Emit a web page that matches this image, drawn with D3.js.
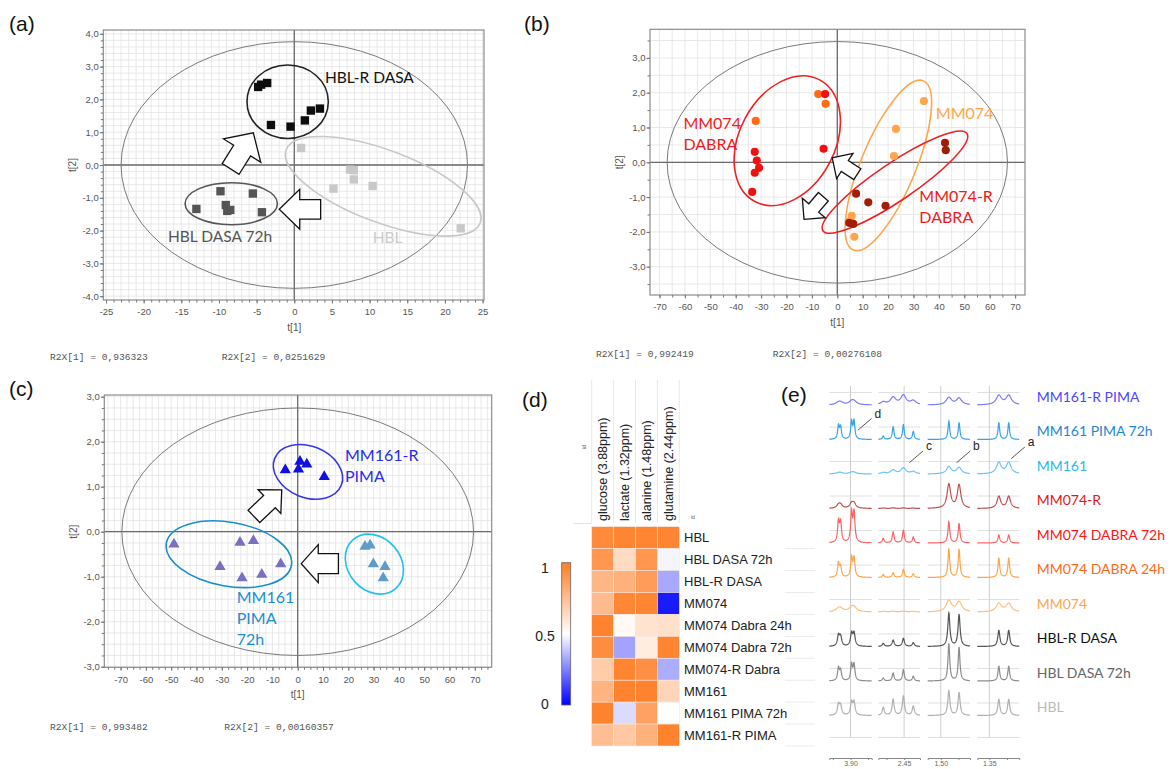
<!DOCTYPE html>
<html><head><meta charset="utf-8">
<script src="https://cdn.jsdelivr.net/npm/d3@7"></script>
<style>body{margin:0;background:#fff}svg{display:block}</style>
</head><body>
<script>
// ================= DATA =================
// ---- (a) PCA scores t[1], t[2]
const aXTicks = [-25,-20,-15,-10,-5,0,5,10,15,20,25];
const aYTicks = [-4,-3,-2,-1,0,1,2,3,4];
const aHBLR_DASA   = [[-4.8,2.38],[-4.4,2.45],[-3.6,2.5],[-3.1,1.22],[-0.5,1.17],[1.4,1.36],[2.2,1.66],[3.4,1.72]];
const aHBL_DASA72  = [[-13,-1.34],[-9.8,-0.8],[-9.1,-1.22],[-8.9,-1.4],[-8.5,-1.37],[-5.5,-0.87],[-4.3,-1.44]];
const aHBL         = [[0.9,0.52],[5.2,-0.72],[7.4,-0.14],[7.9,-0.16],[7.9,-0.44],[10.4,-0.64],[22.1,-1.93]];
const aR2X = ["R2X[1] = 0,936323", "R2X[2] = 0,0251629"];

// ---- (b)
const bXTicks = [-70,-60,-50,-40,-30,-20,-10,0,10,20,30,40,50,60,70];
const bYTicks = [-3,-2,-1,0,1,2,3];
const bMM074      = [[34.1,1.76],[23.1,0.96],[22.3,0.18],[5.7,-1.54],[4.6,-1.7],[6.7,-2.14]];
const bMM074_D24  = [[-7.5,1.96],[-4.6,1.68],[-32.1,1.19]];
const bMM074_D72  = [[-4.8,1.96],[-5.4,0.39],[-32.5,0.3],[-31.7,0.05],[-30.8,-0.16],[-32.5,-0.3],[-33.5,-0.85]];
const bMM074R     = [[42.4,0.56],[42.7,0.35],[7.4,-0.9],[12.2,-1.15],[19,-1.25],[4.7,-1.74],[6.3,-1.77]];
const bR2X = ["R2X[1] = 0,992419", "R2X[2] = 0,00276108"];

// ---- (c)
const cXTicks = [-70,-60,-50,-40,-30,-20,-10,0,10,20,30,40,50,60,70];
const cYTicks = [-3,-2,-1,0,1,2,3];
const cMM161R     = [[-4.9,1.37],[0.9,1.56],[0.3,1.39],[3.6,1.5],[10.5,1.22]];
const cMM161_P72  = [[-48.9,-0.28],[-22.8,-0.24],[-17.5,-0.2],[-30.7,-0.78],[-22,-1.03],[-14.2,-0.95],[-6.7,-0.72]];
const cMM161      = [[26.6,-0.33],[28.6,-0.3],[29.9,-0.72],[34.5,-0.78],[33.8,-1.03]];
const cR2X = ["R2X[1] = 0,993482", "R2X[2] = 0,00160357"];

// ---- (d) heatmap
const hmCols = ["glucose (3.88ppm)","lactate (1.32ppm)","alanine (1.48ppm)","glutamine (2.44ppm)"];
const hmRows = ["HBL","HBL DASA 72h","HBL-R DASA","MM074","MM074 Dabra 24h","MM074 Dabra 72h","MM074-R Dabra","MM161","MM161 PIMA 72h","MM161-R PIMA"];
const hmValues = [
  [0.95,0.97,0.97,0.97],
  [0.90,0.64,0.90,0.48],
  [0.78,0.80,0.88,0.33],
  [0.76,0.96,0.97,0.05],
  [0.98,0.52,0.61,0.62],
  [0.94,0.32,0.57,0.97],
  [0.70,0.97,0.93,0.34],
  [0.79,0.98,0.98,0.66],
  [0.98,0.43,0.86,0.50],
  [0.75,0.71,0.80,0.98]
];
const cbTicks = [0, 0.5, 1];

// ---- (e) NMR spectra (peak tables)
const specRows = ["MM161-R PIMA","MM161 PIMA 72h","MM161","MM074-R","MM074 DABRA 72h","MM074 DABRA 24h","MM074","HBL-R DASA","HBL DASA 72h","HBL"];
const specRef = [3.90, 2.45, 1.50, 1.35];
const specRefLabels = ["3.90","2.45","1.50","1.35"];
const specDom = [[3.96,3.84],[2.523,2.405],[1.537,1.417],[1.384,1.265]];
const peakPpm = [[3.934,3.928,3.897,3.890],[2.509,2.481,2.452,2.424],[1.477,1.448],[1.323,1.295]];
const peakWidth = [0.009,0.0028,0.008,0.006,0.003,0.003,0.009,0.0035,0.003,0.0035];
const peakHeights = [
  [[6,6,9,9],[8,22,28,12],[22,20],[28,28]],
  [[40,36,52,54],[10,38,44,24],[55,50],[50,50]],
  [[3,3,4,4],[4,12,18,7],[22,19],[34,34]],
  [[10,10,14,14],[1.5,2,2,1.5],[72,70],[36,36]],
  [[62,58,88,88],[14,33,38,18],[64,58],[24,24]],
  [[42,30,58,56],[9,14,24,11],[84,84],[58,58]],
  [[8,8,11,11],[2,2,2,2],[34,30],[25,25]],
  [[32,28,38,38],[9,19,24,11],[100,95],[48,48]],
  [[38,30,48,48],[9,24,34,14],[112,100],[44,44]],
  [[32,28,38,38],[24,48,58,28],[74,68],[48,48]]
];
const specAnnot = [
  {t:"d", col:0, row:1, ppm:3.879, h:28},
  {t:"c", col:1, row:2, ppm:2.435, h:34},
  {t:"b", col:2, row:2, ppm:1.455, h:34},
  {t:"a", col:3, row:2, ppm:1.288, h:46}
];

// ================= DRAW =================
const W = 1172, H = 769;
const svg = d3.select("body").append("svg").attr("width", W).attr("height", H);
svg.append("rect").attr("width", W).attr("height", H).attr("fill", "#fff");
const SANS = "'Liberation Sans', Arial, sans-serif";
const LABF = "Lato, 'Liberation Sans', sans-serif";

const fmtY = d => d3.format(".1f")(d).replace(".", ",").replace("\u2212", "-");
const fmtX = d => d3.format("d")(d).replace("\u2212", "-");

function blockArrow(p0, p1, shaft, head, headLen) {
  const dx = p1[0]-p0[0], dy = p1[1]-p0[1], L = Math.hypot(dx, dy);
  const ux = dx/L, uy = dy/L, nx = -uy, ny = ux;
  const b = [p1[0]-ux*headLen, p1[1]-uy*headLen];
  const pts = [
    [p0[0]+nx*shaft/2, p0[1]+ny*shaft/2],
    [b[0]+nx*shaft/2, b[1]+ny*shaft/2],
    [b[0]+nx*head/2, b[1]+ny*head/2],
    p1,
    [b[0]-nx*head/2, b[1]-ny*head/2],
    [b[0]-nx*shaft/2, b[1]-ny*shaft/2],
    [p0[0]-nx*shaft/2, p0[1]-ny*shaft/2]];
  return "M" + pts.map(p => p.map(v => v.toFixed(2)).join(",")).join("L") + "Z";
}

function pca(c) {
  const g = svg.append("g");
  const x = d3.scaleLinear().domain(c.xDom).range([c.L, c.R]);
  const y = d3.scaleLinear().domain(c.yDom).range([c.B, c.T]);
  const xg = d3.range(Math.ceil(c.xDom[0]/c.xStep)*c.xStep, c.xDom[1], c.xStep);
  const yg = d3.range(Math.ceil(c.yDom[0]/c.yStep)*c.yStep, c.yDom[1], c.yStep);
  g.append("g").selectAll("line").data(xg).join("line")
    .attr("x1", d => x(d)).attr("x2", d => x(d)).attr("y1", c.T).attr("y2", c.B)
    .attr("stroke", "#e3e3e3").attr("stroke-width", 0.8);
  g.append("g").selectAll("line").data(yg).join("line")
    .attr("y1", d => y(d)).attr("y2", d => y(d)).attr("x1", c.L).attr("x2", c.R)
    .attr("stroke", "#e3e3e3").attr("stroke-width", 0.8);
  g.append("line").attr("x1", x(0)).attr("x2", x(0)).attr("y1", c.T).attr("y2", c.B)
    .attr("stroke", "#6a6a6a").attr("stroke-width", 1.3);
  g.append("line").attr("y1", y(0)).attr("y2", y(0)).attr("x1", c.L).attr("x2", c.R)
    .attr("stroke", "#6a6a6a").attr("stroke-width", 1.3);
  g.append("rect").attr("x", c.L).attr("y", c.T).attr("width", c.R-c.L).attr("height", c.B-c.T)
    .attr("fill", "none").attr("stroke", "#8c8c8c").attr("stroke-width", 1.2);

  const styleAxis = s => {
    s.select(".domain").remove();
    s.selectAll("line").attr("stroke", "#777");
    s.selectAll("text").attr("fill", "#555").attr("font-family", SANS).attr("font-size", 9.5);
  };
  g.append("g").attr("transform", `translate(0,${c.B})`)
    .call(d3.axisBottom(x).tickValues(xg).tickFormat("").tickSize(2.5)).call(styleAxis);
  g.append("g").attr("transform", `translate(0,${c.B})`)
    .call(d3.axisBottom(x).tickValues(c.xTicks).tickFormat(fmtX).tickSize(3.5).tickPadding(5)).call(styleAxis);
  g.append("g").attr("transform", `translate(${c.L},0)`)
    .call(d3.axisLeft(y).tickValues(yg).tickFormat("").tickSize(2.5)).call(styleAxis);
  g.append("g").attr("transform", `translate(${c.L},0)`)
    .call(d3.axisLeft(y).tickValues(c.yTicks).tickFormat(fmtY).tickSize(3.5).tickPadding(1)).call(styleAxis);

  g.append("text").attr("x", x(0)).attr("y", c.B + 31)
    .attr("text-anchor", "middle").attr("font-family", SANS).attr("font-size", 10).attr("fill", "#555").text("t[1]");
  g.append("text").attr("transform", `translate(${c.L-27},${y(0)}) rotate(-90)`)
    .attr("text-anchor", "middle").attr("font-family", SANS).attr("font-size", 10).attr("fill", "#555").text("t[2]");

  g.append("g").selectAll("ellipse").data(c.ellipses).join("ellipse")
    .attr("transform", d => `translate(${x(d.cx)},${y(d.cy)}) rotate(${d.rot})`)
    .attr("rx", d => Math.abs(x(d.rx)-x(0))).attr("ry", d => Math.abs(y(d.ry)-y(0)))
    .attr("fill", "none").attr("stroke", d => d.color).attr("stroke-width", d => d.w);

  g.append("g").selectAll("path").data(c.arrows).join("path")
    .attr("d", d => blockArrow([x(d.from[0]), y(d.from[1])], [x(d.to[0]), y(d.to[1])], d.shaft, d.head, d.headLen))
    .attr("fill", "#fff").attr("stroke", "#111").attr("stroke-width", 1.3).attr("stroke-linejoin", "miter");

  c.groups.forEach(gr => {
    const sym = d3.symbol().type(gr.shape).size(gr.size);
    g.append("g").selectAll("path").data(gr.pts).join("path")
      .attr("transform", d => `translate(${x(d[0])},${y(d[1])})`)
      .attr("d", sym).attr("fill", gr.color);
  });

  c.labels.forEach(lb => {
    const t = g.append("text").attr("font-family", LABF).attr("font-size", lb.size).attr("fill", lb.color);
    lb.lines.forEach((ln, i) => {
      t.append("tspan").attr("x", x(lb.x)).attr("y", y(lb.y) + i*lb.lh).text(ln);
    });
  });

  g.append("text").attr("x", c.r2x[0]).attr("y", c.r2xY).attr("font-family", "'Liberation Mono', monospace")
    .attr("font-size", 9.6).attr("fill", "#555").text(c.r2xText[0]);
  g.append("text").attr("x", c.r2x[1]).attr("y", c.r2xY).attr("font-family", "'Liberation Mono', monospace")
    .attr("font-size", 9.6).attr("fill", "#555").text(c.r2xText[1]);
}

// ---- panel (a)
pca({
  L: 103.3, R: 484, T: 30, B: 300, xDom: [-25.36, 25.19], yDom: [-4.116, 4.116],
  xStep: 1, yStep: 0.2, xTicks: aXTicks, yTicks: aYTicks,
  ellipses: [
    {cx: 0, cy: 0, rx: 23, ry: 3.76, rot: 0, color: "#7a7a7a", w: 1},
    {cx: -0.88, cy: 1.93, rx: 5.4, ry: 1.12, rot: 0, color: "#222", w: 1.6},
    {cx: -8.37, cy: -1.18, rx: 6.13, ry: 0.64, rot: 0, color: "#555", w: 1.6},
    {cx: 11.8, cy: -0.65, rx: 13.77, ry: 1.1, rot: 20.7, color: "#c8c8c8", w: 1.6}
  ],
  arrows: [
    {from: [-8.45, -0.12], to: [-5.44, 0.98], shaft: 20, head: 44, headLen: 21},
    {from: [3.5, -1.35], to: [-2.0, -1.35], shaft: 19.5, head: 40, headLen: 20.5}
  ],
  groups: [
    {pts: aHBL, color: "#c8c8c8", shape: d3.symbolSquare, size: 70},
    {pts: aHBL_DASA72, color: "#555", shape: d3.symbolSquare, size: 70},
    {pts: aHBLR_DASA, color: "#0d0d0d", shape: d3.symbolSquare, size: 70}
  ],
  labels: [
    {lines: ["HBL-R DASA"], x: 4.08, y: 2.5, color: "#111", size: 15.5, lh: 0},
    {lines: ["HBL DASA 72h"], x: -16.77, y: -2.34, color: "#555", size: 15.5, lh: 0},
    {lines: ["HBL"], x: 10.41, y: -2.38, color: "#cccccc", size: 15.5, lh: 0}
  ],
  r2x: [50, 221.7], r2xY: 360, r2xText: aR2X
});

// ---- panel (b)
pca({
  L: 650, R: 1025, T: 29.3, B: 295, xDom: [-73.74, 73.9], yDom: [-3.813, 3.822],
  xStep: 5, yStep: 0.5, xTicks: bXTicks, yTicks: bYTicks,
  ellipses: [
    {cx: 0, cy: 0, rx: 67, ry: 3.47, rot: 0, color: "#7a7a7a", w: 1},
    {cx: -19.7, cy: 0.62, rx: 18.8, ry: 1.98, rot: 28, color: "#ee2222", w: 1.6},
    {cx: 20.1, cy: -0.09, rx: 10.8, ry: 2.63, rot: 22.5, color: "#ffa64d", w: 1.6},
    {cx: 22.7, cy: -0.57, rx: 34.2, ry: 0.54, rot: -34, color: "#ee2222", w: 1.6}
  ],
  arrows: [
    {from: [7.9, -0.34], to: [-2.0, 0.13], shaft: 13, head: 30, headLen: 15},
    {from: [-5.5, -0.99], to: [-13.1, -1.64], shaft: 13, head: 30, headLen: 15}
  ],
  groups: [
    {pts: bMM074, color: "#ffa64d", shape: d3.symbolCircle, size: 52},
    {pts: bMM074_D24, color: "#ff6a13", shape: d3.symbolCircle, size: 52},
    {pts: bMM074_D72, color: "#f01010", shape: d3.symbolCircle, size: 52},
    {pts: bMM074R, color: "#a01e05", shape: d3.symbolCircle, size: 52}
  ],
  labels: [
    {lines: ["MM074", "DABRA"], x: -60.6, y: 0.95, color: "#ee1c1c", size: 16, lh: 20.7},
    {lines: ["MM074"], x: 38.8, y: 1.24, color: "#ffa64d", size: 16, lh: 0},
    {lines: ["MM074-R", "DABRA"], x: 32.3, y: -1.13, color: "#ee1c1c", size: 16, lh: 21}
  ],
  r2x: [596, 772.7], r2xY: 356.5, r2xText: bR2X
});

// ---- panel (c)
pca({
  L: 104.3, R: 491.7, T: 395, B: 667.3, xDom: [-76.44, 76.68], yDom: [-3.013, 3.038],
  xStep: 2.5, yStep: 0.25, xTicks: cXTicks, yTicks: cYTicks,
  ellipses: [
    {cx: 0, cy: 0, rx: 69.5, ry: 2.75, rot: 0, color: "#7a7a7a", w: 1},
    {cx: 4.07, cy: 1.33, rx: 14.2, ry: 0.57, rot: 22, color: "#3535e8", w: 1.6},
    {cx: -27.2, cy: -0.5, rx: 25.1, ry: 0.71, rot: 10, color: "#1a8fd0", w: 1.6},
    {cx: 30.3, cy: -0.72, rx: 10.4, ry: 0.72, rot: -41, color: "#22c0f0", w: 1.6}
  ],
  arrows: [
    {from: [-17.3, 0.34], to: [-6.3, 0.93], shaft: 17, head: 33, headLen: 17},
    {from: [16.1, -0.71], to: [1.4, -0.71], shaft: 20, head: 38, headLen: 17}
  ],
  groups: [
    {pts: cMM161, color: "#5f9cc8", shape: d3.symbolTriangle, size: 55},
    {pts: cMM161_P72, color: "#7a70c0", shape: d3.symbolTriangle, size: 55},
    {pts: cMM161R, color: "#1111dd", shape: d3.symbolTriangle, size: 55}
  ],
  labels: [
    {lines: ["MM161-R", "PIMA"], x: 18.7, y: 1.57, color: "#2a2aee", size: 16, lh: 20.7},
    {lines: ["MM161", "PIMA", "72h"], x: -24.1, y: -1.59, color: "#1a8fd0", size: 16, lh: 20.8}
  ],
  r2x: [50, 224.3], r2xY: 730, r2xText: cR2X
});

// ---- panel (d) heatmap
(function () {
  const g = svg.append("g");
  const x = d3.scaleBand().domain(hmCols).range([591.7, 679.3]);
  const y = d3.scaleBand().domain(hmRows).range([526.7, 746]);
  const col = d3.scaleLinear().domain([0, 0.5, 1]).range(["#0000ff", "#ffffff", "#ff7d25"]);
  g.selectAll("line.hs").data(d3.range(hmCols.length + 1)).join("line")
    .attr("x1", i => 591.7 + i*x.bandwidth()).attr("x2", i => 591.7 + i*x.bandwidth())
    .attr("y1", 380).attr("y2", 523).attr("stroke", "#e2e2e2").attr("stroke-width", 0.8);
  g.append("line").attr("x1", 573).attr("x2", 591.7).attr("y1", 523.5).attr("y2", 523.5).attr("stroke", "#e2e2e2");
  g.selectAll("line.rs").data(hmRows).join("line")
    .attr("x1", 785).attr("x2", 815)
    .attr("y1", (d, i) => 526.7 + (i+1)*y.bandwidth()).attr("y2", (d, i) => 526.7 + (i+1)*y.bandwidth())
    .attr("stroke", "#e6e6e6").attr("stroke-width", 0.8);
  hmValues.forEach((row, ri) => {
    g.append("g").selectAll("rect").data(row).join("rect")
      .attr("x", (v, ci) => x(hmCols[ci])).attr("y", y(hmRows[ri]))
      .attr("width", x.bandwidth()).attr("height", y.bandwidth())
      .attr("fill", v => col(v)).attr("stroke", "#f4e6dc").attr("stroke-width", 0.6);
  });
  g.selectAll("text.cl").data(hmCols).join("text")
    .attr("transform", d => `translate(${x(d) + x.bandwidth()/2 + 4.5},521) rotate(-90)`)
    .attr("font-family", SANS).attr("font-size", 12.5).attr("fill", "#222").text(d => d);
  g.selectAll("text.rl").data(hmRows).join("text")
    .attr("x", 684).attr("y", d => y(d) + y.bandwidth()/2 + 4.5)
    .attr("font-family", SANS).attr("font-size", 13).attr("fill", "#222").text(d => d);
  g.append("text").attr("transform", "translate(586,449) rotate(-90)").attr("font-family", SANS)
    .attr("font-size", 5).attr("fill", "#555").text("id");
  g.append("text").attr("x", 691).attr("y", 519).attr("font-family", SANS)
    .attr("font-size", 5).attr("fill", "#555").text("id");
  const defs = svg.append("defs");
  const grad = defs.append("linearGradient").attr("id", "cb").attr("x1", 0).attr("y1", 1).attr("x2", 0).attr("y2", 0);
  d3.range(0, 1.0001, 0.1).forEach(v => grad.append("stop").attr("offset", v).attr("stop-color", col(v)));
  const cy = d3.scaleLinear().domain([0, 1]).range([705, 562.7]);
  g.append("rect").attr("x", 561.7).attr("y", cy(1)).attr("width", 9).attr("height", cy(0) - cy(1))
    .attr("fill", "url(#cb)").attr("stroke", "#666").attr("stroke-width", 0.8);
  const ly = d3.scaleLinear().domain([0, 1]).range([709, 573]);
  g.selectAll("text.cb").data(cbTicks).join("text")
    .attr("x", 545).attr("y", d => ly(d)).attr("text-anchor", "middle")
    .attr("font-family", SANS).attr("font-size", 14).attr("fill", "#222").text(d => String(d));
})();

// ---- panel (e) spectra
(function () {
  const g = svg.append("g");
  const colPx = [[829.3, 871.7], [878.3, 920], [927.7, 970], [977.3, 1019.3]];
  const lineCol = ["#7b7bff","#35a3ec","#70c4f5","#c0504d","#ff6262","#ffa347","#ffbf80","#555555","#8c8c8c","#b0b0b0"];
  const labCol = ["#4848ff","#1f86d6","#29b9f2","#e01818","#ff1515","#ff6a1a","#ffa64d","#111111","#666666","#bbbbbb"];
  const base = d3.scaleLinear().domain([0, specRows.length - 1]).range([405, 715.5]);
  const yI = d3.scaleLinear().domain([0, 120]).range([0, 40]);
  const xs = specDom.map((dm, i) => d3.scaleLinear().domain(dm).range(colPx[i]));

  xs.forEach((x, ci) => {
    g.append("g").selectAll("line").data(d3.range(specRows.length + 1)).join("line")
      .attr("x1", colPx[ci][0]).attr("x2", colPx[ci][1])
      .attr("y1", k => base(k) - 12.5).attr("y2", k => base(k) - 12.5)
      .attr("stroke", "#dcdcdc").attr("stroke-width", 0.9);
    g.append("line").attr("x1", x(specRef[ci])).attr("x2", x(specRef[ci])).attr("y1", 386).attr("y2", 737.5)
      .attr("stroke", "#cfcfcf").attr("stroke-width", 1);
    const ticks = [specRef[ci] + 0.05, specRef[ci], specRef[ci] - 0.05]
      .filter(v => v <= specDom[ci][0] + 1e-6 && v >= specDom[ci][1] - 1e-6);
    const ax = g.append("g").attr("transform", "translate(0,758)")
      .call(d3.axisBottom(x).tickValues(ticks).tickSizeOuter(0).tickSize(2).tickPadding(1)
        .tickFormat(v => Math.abs(v - specRef[ci]) < 1e-6 ? specRefLabels[ci] : ""));
    ax.select(".domain").attr("stroke", "#888");
    ax.selectAll("line").attr("stroke", "#888");
    ax.selectAll("text").attr("font-family", SANS).attr("font-size", 7).attr("fill", "#666");
  });

  specRows.forEach((name, ri) => {
    xs.forEach((x, ci) => {
      const dm = specDom[ci];
      const gam = peakWidth[ri];
      const hs = peakHeights[ri][ci];
      const pp = peakPpm[ci];
      const ppm = d3.range(dm[0], dm[1], -0.0004);
      const pts = ppm.map(p => {
        let s = 0;
        pp.forEach((p0, k) => { s += hs[k] * gam*gam / ((p - p0)*(p - p0) + gam*gam); });
        return [p, s];
      });
      g.append("path").datum(pts)
        .attr("d", d3.line().x(d => x(d[0])).y(d => base(ri) - yI(d[1])))
        .attr("fill", "none").attr("stroke", lineCol[ri]).attr("stroke-width", 1.2);
    });
  });

  specAnnot.forEach(a => {
    const px = xs[a.col](a.ppm), py = base(a.row) - yI(a.h);
    g.append("line").attr("x1", px).attr("y1", py).attr("x2", px + 13.7).attr("y2", py - 11.7)
      .attr("stroke", "#444").attr("stroke-width", 0.9);
    g.append("text").attr("x", px + 16.5).attr("y", py - 12.5).attr("font-family", SANS)
      .attr("font-size", 12).attr("fill", "#222").text(a.t);
  });

  g.selectAll("text.sl").data(specRows).join("text")
    .attr("x", 1036.7).attr("y", (d, i) => base(i) - 3.3)
    .attr("font-family", LABF).attr("font-size", 14).attr("fill", (d, i) => labCol[i]).text(d => d);
})();

// ---- panel letters
const panelLetters = [["(a)", 9, 31], ["(b)", 524, 31], ["(c)", 9, 396], ["(d)", 522, 407], ["(e)", 781, 402]];
svg.selectAll("text.pl").data(panelLetters).join("text")
  .attr("x", d => d[1]).attr("y", d => d[2]).attr("font-family", SANS).attr("font-size", 21)
  .attr("fill", "#111").text(d => d[0]);
</script>
</body></html>
